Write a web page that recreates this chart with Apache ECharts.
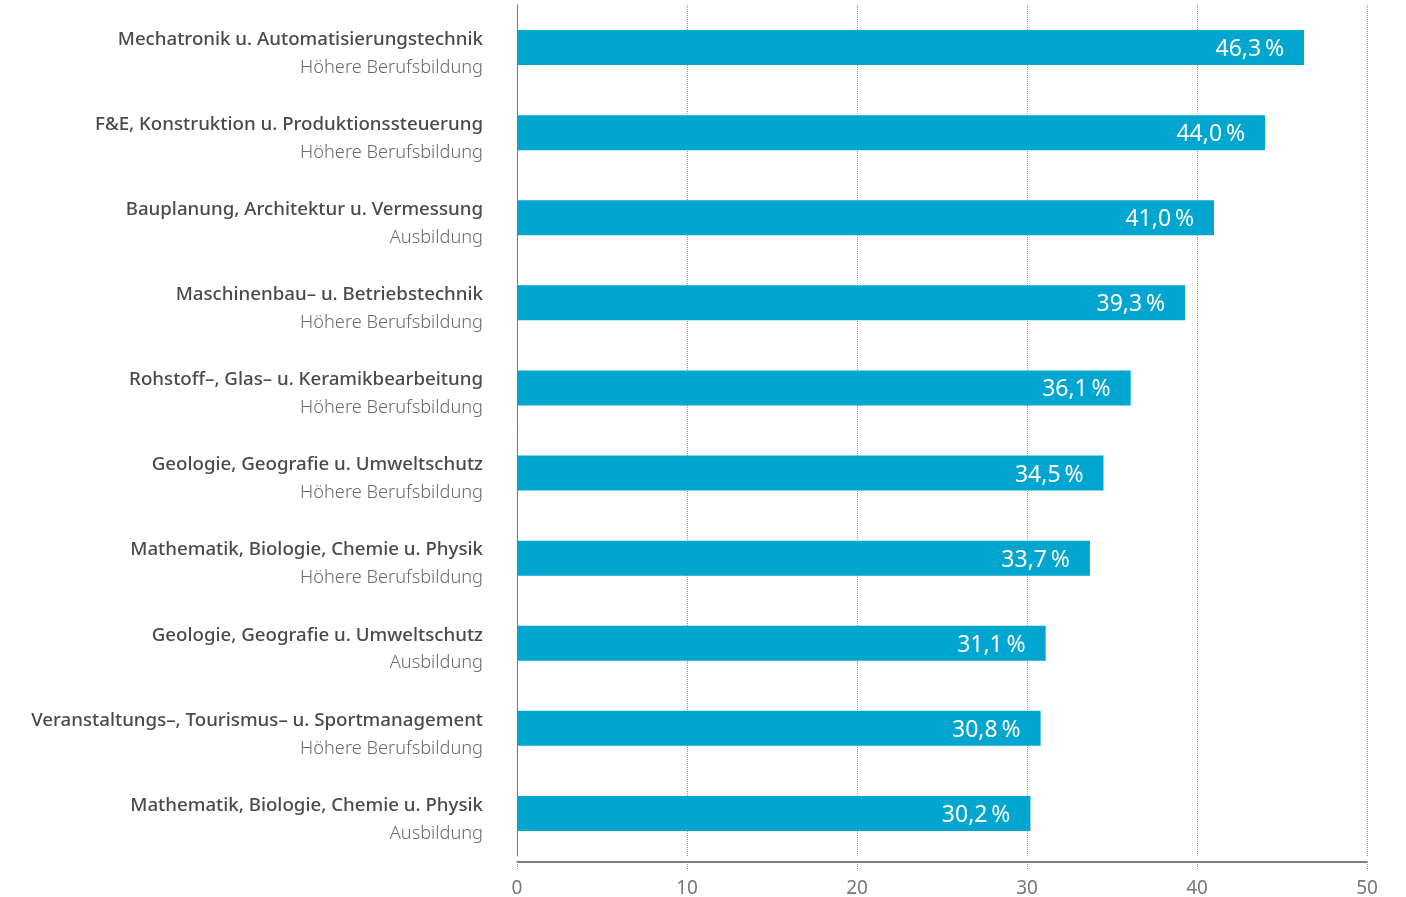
<!DOCTYPE html>
<html>
<head>
<meta charset="utf-8">
<script src="https://cdn.jsdelivr.net/npm/echarts@6/dist/echarts.min.js"></script>
<style>
html,body{margin:0;padding:0;background:#fff;}
#chart{width:1406px;height:897px;}
</style>
</head>
<body>
<div id="chart"></div>
<script>
const fields = [
  'Mechatronik u. Automatisierungstechnik',
  'F&E, Konstruktion u. Produktionssteuerung',
  'Bauplanung, Architektur u. Vermessung',
  'Maschinenbau– u. Betriebstechnik',
  'Rohstoff–, Glas– u. Keramikbearbeitung',
  'Geologie, Geografie u. Umweltschutz',
  'Mathematik, Biologie, Chemie u. Physik',
  'Geologie, Geografie u. Umweltschutz',
  'Veranstaltungs–, Tourismus– u. Sportmanagement',
  'Mathematik, Biologie, Chemie u. Physik'
];
const levels = [
  'Höhere Berufsbildung',
  'Höhere Berufsbildung',
  'Ausbildung',
  'Höhere Berufsbildung',
  'Höhere Berufsbildung',
  'Höhere Berufsbildung',
  'Höhere Berufsbildung',
  'Ausbildung',
  'Höhere Berufsbildung',
  'Ausbildung'
];
const values = [46.3, 44.0, 41.0, 39.3, 36.1, 34.5, 33.7, 31.1, 30.8, 30.2];
const xTicks = [0, 10, 20, 30, 40, 50];

const categories = fields.map((f, i) => f + '\n' + levels[i]);

const chart = echarts.init(document.getElementById('chart'), null, {renderer: 'canvas'});
const FONT = '"Noto Sans", sans-serif';
chart.setOption({
  animation: false,
  grid: {left: 517, right: 39, top: 5, height: 851, containLabel: false, outerBoundsMode: 'none'},
  xAxis: {
    type: 'value',
    min: xTicks[0],
    max: xTicks[xTicks.length - 1],
    interval: 10,
    offset: 6,
    axisLine: {show: true, lineStyle: {color: '#555', width: 1.5}},
    axisTick: {show: true, length: 7, lineStyle: {color: '#999', type: 'dotted'}},
    axisLabel: {color: '#777', fontFamily: FONT, fontSize: 19, margin: 17},
    splitLine: {show: true, lineStyle: {color: '#999', type: 'dotted', width: 1}}
  },
  yAxis: {
    type: 'category',
    inverse: true,
    data: categories,
    axisLine: {show: true, lineStyle: {color: '#777', width: 1}},
    axisTick: {show: false},
    axisLabel: {
      margin: 34,
      formatter: function (v) {
        const p = v.split('\n');
        return '{a|' + p[0] + '}\n{b|' + p[1] + '}';
      },
      rich: {
        a: {fontFamily: FONT, fontSize: 18.7, fontWeight: 500, color: '#4a4a4a', lineHeight: 40, align: 'right'},
        b: {fontFamily: FONT, fontSize: 18.2, fontWeight: 300, color: '#6a6a6a', lineHeight: 16, align: 'right'}
      }
    }
  },
  series: [{
    type: 'bar',
    data: values,
    barWidth: 35,
    itemStyle: {color: '#00a6cf'},
    label: {
      show: true,
      position: 'insideRight',
      distance: 20,
      color: '#fff',
      fontFamily: FONT,
      fontSize: 23,
      offset: [0, 2],
      formatter: p => p.value.toFixed(1).replace('.', ',') + '\u2009%'
    }
  }]
});
</script>
</body>
</html>
